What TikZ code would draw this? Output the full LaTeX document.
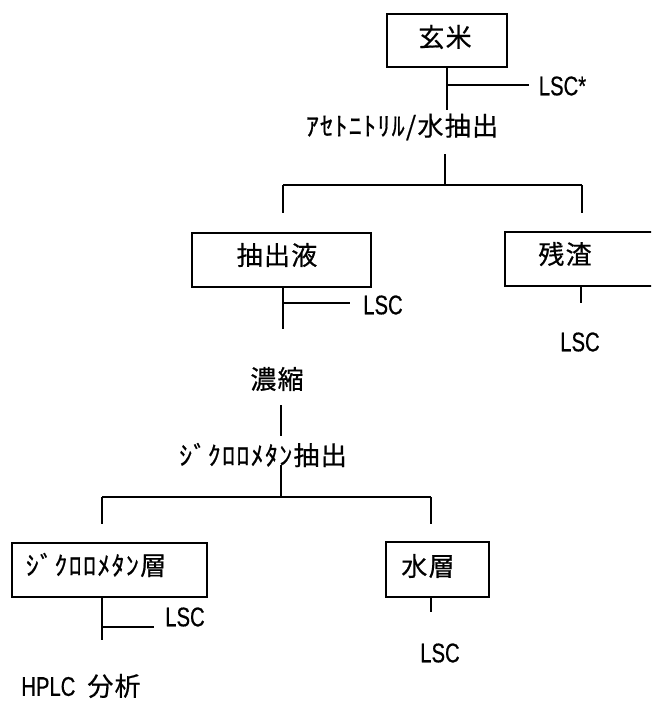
\documentclass[tikz,border=0pt]{standalone}
\usepackage{fontspec}
\newfontfamily\jp[LetterSpace=5,FakeBold=0.6]{Noto Sans CJK JP}
\newfontfamily\lscf[FakeStretch=0.75,FakeBold=0.5]{Liberation Sans}
\begin{document}
\begin{tikzpicture}[x=1pt,y=-1pt,line width=1.7pt,
  box/.style={draw,line width=1.7pt,inner sep=0pt},
  jtext/.style={inner sep=0pt,font=\jp\fontsize{26}{26}\selectfont},
  ltext/.style={inner sep=0pt,font=\lscf\fontsize{27}{27}\selectfont}]
\useasboundingbox (0,0) rectangle (651,701);
\clip (0,0) rectangle (651,701);
% boxes
\node[box,minimum width=120pt,minimum height=53pt] (genmai) at (447,40.5) {};
\node[jtext] (genmaitx) at (445,37) {玄米};
\node[box,minimum width=179pt,minimum height=54pt] (ext) at (281.5,260) {};
\node[jtext] (exttx) at (277,255) {抽出液};
\node[box,minimum width=170pt,minimum height=54pt] (res) at (590,259) {};
\node[jtext] (restx) at (565,254) {残渣};
\node[box,minimum width=195pt,minimum height=54pt] (dcm) at (109.5,570) {};
\node[jtext] (dcmtx) at (96,565) {ｼﾞｸﾛﾛﾒﾀﾝ層};
\node[box,minimum width=103pt,minimum height=55pt] (aq) at (437.5,569.5) {};
\node[jtext] (aqtx) at (428,566) {水層};
% texts
\node[ltext,anchor=west] (lsc0) at (538,86) {LSC*};
\node[jtext] (acn) at (402,127) {ｱｾﾄﾆﾄﾘﾙ/水抽出};
\node[ltext] (lsc1) at (383,305) {LSC};
\node[ltext] (lsc2) at (580,342) {LSC};
\node[jtext] (conc) at (277,379) {濃縮};
\node[jtext] (dcmext) at (263,455) {ｼﾞｸﾛﾛﾒﾀﾝ抽出};
\node[ltext] (lsc3) at (185,617) {LSC};
\node[ltext] (lsc4) at (440,653) {LSC};
\node[inner sep=0pt] (hplc) at (81,686) {{\lscf\fontsize{27}{27}\selectfont HPLC}\hspace{12pt}{\jp\fontsize{26}{26}\selectfont 分析}};
% coordinates
\coordinate (a1) at (447,110);
\coordinate (a2) at (447,85);
\coordinate (a3) at (529,85);
\coordinate (b1) at (445,154);
\coordinate (b2) at (445,185);
\coordinate (bl) at (283,185);
\coordinate (br) at (582,185);
\coordinate (bl2) at (283,213);
\coordinate (br2) at (582,213);
\coordinate (e1) at (283,329);
\coordinate (e2) at (283,303);
\coordinate (e3) at (350,303);
\coordinate (r1) at (581,303);
\coordinate (d1) at (281,405);
\coordinate (d2) at (281,436);
\coordinate (d3) at (281,465);
\coordinate (d4) at (281,497);
\coordinate (dl) at (102,497);
\coordinate (dr) at (431,497);
\coordinate (dl2) at (102,524);
\coordinate (dr2) at (431,524);
\coordinate (f1) at (102,640);
\coordinate (f2) at (102,627);
\coordinate (f3) at (154,627);
\coordinate (w1) at (431,612);
% connectors
\draw (genmai.south) -- (a1);
\draw (a2) -- (a3);
\draw (b1) -- (b2);
\draw (bl) -- (br);
\draw (bl) -- (bl2);
\draw (br) -- (br2);
\draw (ext.south -| e1) -- (e1);
\draw (e2) -- (e3);
\draw (res.south -| r1) -- (r1);
\draw (d1) -- (d2);
\draw (d3) -- (d4);
\draw (dl) -- (dr);
\draw (dl) -- (dl2);
\draw (dr) -- (dr2);
\draw (dcm.south -| f1) -- (f1);
\draw (f2) -- (f3);
\draw (aq.south -| w1) -- (w1);
\end{tikzpicture}
\end{document}
